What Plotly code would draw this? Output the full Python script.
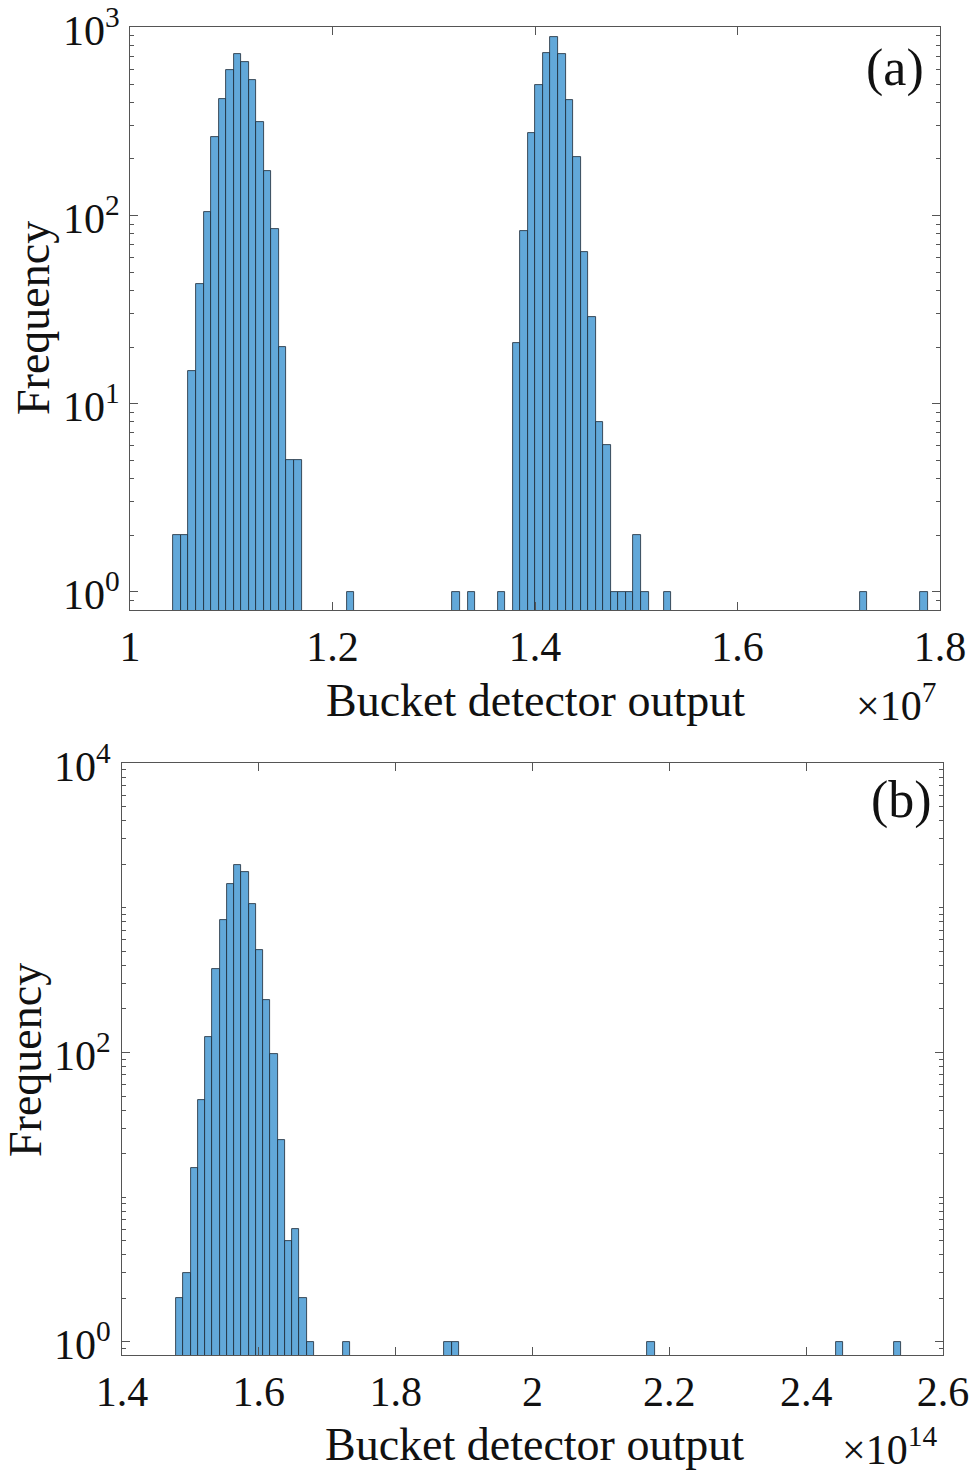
import math
import plotly.graph_objects as go

# ---------------- data ----------------
# Panel (a): histogram bins (index into a regular grid), counts
a_bin_start = 1.0428   # x1e7, left edge of bin 0
a_bin_width = 0.00745
a_bins = list(range(0, 17)) + [23, 37, 39, 43] + list(range(45, 63)) + [65, 91, 99]
a_counts = [2, 2, 15, 43, 105, 261, 418, 593, 718, 658, 523, 313, 173, 85, 20, 5, 5,
            1, 1, 1, 1,
            21, 83, 274, 497, 731, 890, 718, 409, 205, 64, 29, 8, 6, 1, 1, 1, 2, 1,
            1, 1, 1]

# Panel (b)
b_bin_start = 1.479    # x1e14
b_bin_width = 0.0106
b_bins = list(range(0, 19)) + [23, 37, 38, 65, 91, 99]
b_counts = [2, 3, 16, 47, 127, 380, 826, 1455, 1967, 1775, 1069, 509, 229, 97, 25, 5, 6, 2, 1,
            1, 1, 1, 1, 1, 1]

a_xticks = [1.0, 1.2, 1.4, 1.6, 1.8]
a_xticktext = ["1", "1.2", "1.4", "1.6", "1.8"]
b_xticks = [1.4, 1.6, 1.8, 2.0, 2.2, 2.4, 2.6]
b_xticktext = ["1.4", "1.6", "1.8", "2", "2.2", "2.4", "2.6"]
a_yticks = [1, 10, 100, 1000]
a_yticktext = ["10<sup>0</sup>", "10<sup>1</sup>", "10<sup>2</sup>", "10<sup>3</sup>"]
b_yticks = [1, 100, 10000]
b_yticktext = ["10<sup>0</sup>", "10<sup>2</sup>", "10<sup>4</sup>"]

# ---------------- styling ----------------
W, H = 972, 1473
FONT = "Liberation Serif"
BAR_COLOR = "#62a8d9"
EDGE_COLOR = "#1c2733"
AX_COLOR = "#555555"
TXT = "#111111"


def px_x(p):
    return p / W


def px_y(p):
    return (H - p) / H


def centers(start, width, bins):
    return [start + (i + 0.5) * width for i in bins]


fig = go.Figure()
fig.add_trace(go.Bar(x=centers(a_bin_start, a_bin_width, a_bins), y=a_counts,
                     width=[a_bin_width] * len(a_bins),
                     marker=dict(color=BAR_COLOR, line=dict(color=EDGE_COLOR, width=0.8)),
                     xaxis="x", yaxis="y", showlegend=False))
fig.add_trace(go.Bar(x=centers(b_bin_start, b_bin_width, b_bins), y=b_counts,
                     width=[b_bin_width] * len(b_bins),
                     marker=dict(color=BAR_COLOR, line=dict(color=EDGE_COLOR, width=0.8)),
                     xaxis="x2", yaxis="y2", showlegend=False))


def minor_vals(decades):
    vals = [0.9]
    for d in decades:
        for m in range(2, 10):
            vals.append(m * 10 ** d)
    return vals


tickfont = dict(family=FONT, size=42, color=TXT)
common_axis = dict(showline=True, linecolor=AX_COLOR, linewidth=1, mirror="ticks",
                   ticks="inside", ticklen=8, tickwidth=1, tickcolor=AX_COLOR,
                   showgrid=False, zeroline=False, tickfont=tickfont, automargin=False)

# Panel (a) pixel box: x 130..940, y 27..610
# Panel (b) pixel box: x 122..943, y 763..1355
fig.update_layout(
    width=W, height=H, margin=dict(l=0, r=0, t=0, b=0),
    paper_bgcolor="white", plot_bgcolor="white", bargap=0,
    xaxis=dict(domain=[px_x(130), px_x(940)], range=[1.0, 1.8], anchor="y",
               tickmode="array", tickvals=a_xticks, ticktext=a_xticktext,
               ticklabelstandoff=0, **common_axis),
    yaxis=dict(domain=[px_y(610), px_y(27)], type="log", range=[-0.097, 3.002], anchor="x",
               tickmode="array", tickvals=a_yticks, ticktext=a_yticktext,
               showticklabels=False,
               minor=dict(tickmode="array", tickvals=minor_vals([0, 1, 2]),
                          ticks="inside", ticklen=4, tickcolor=AX_COLOR, tickwidth=1),
               **common_axis),
    xaxis2=dict(domain=[px_x(122), px_x(943)], range=[1.4, 2.6], anchor="y2",
                tickmode="array", tickvals=b_xticks, ticktext=b_xticktext,
                ticklabelstandoff=0, **common_axis),
    yaxis2=dict(domain=[px_y(1355), px_y(763)], type="log", range=[-0.092, 4.002], anchor="x2",
                tickmode="array", tickvals=b_yticks, ticktext=b_yticktext,
                showticklabels=False,
                minor=dict(tickmode="array",
                           tickvals=minor_vals([0, 1, 2, 3]) + [10, 1000],
                           ticks="inside", ticklen=4, tickcolor=AX_COLOR, tickwidth=1),
                **common_axis),
)

# y tick labels (whole label incl. superscript centred on the tick, MATLAB-style)
for vals, texts, yref, xr in [(a_yticks, a_yticktext, "y", 121), (b_yticks, b_yticktext, "y2", 112)]:
    for v, t in zip(vals, texts):
        fig.add_annotation(text=t, xref="paper", yref=yref, x=px_x(xr), y=math.log10(v),
                           xanchor="right", yanchor="middle", showarrow=False,
                           font=tickfont, borderpad=0)

ann_font = dict(family=FONT, size=46, color=TXT)
annotations = [
    dict(text="Bucket detector output", x=px_x(535), y=px_y(700)),
    dict(text="Bucket detector output", x=px_x(534), y=px_y(1444)),
    dict(text="Frequency", x=px_x(33), y=px_y(318), textangle=-90),
    dict(text="Frequency", x=px_x(25), y=px_y(1060), textangle=-90),
]
for a in annotations:
    fig.add_annotation(xref="paper", yref="paper", showarrow=False, font=ann_font,
                       xanchor="center", yanchor="middle", **a)

panel_font = dict(family=FONT, size=52, color=TXT)
fig.add_annotation(text="(a)", xref="paper", yref="paper", x=px_x(895), y=px_y(68),
                   showarrow=False, font=panel_font, xanchor="center", yanchor="middle")
fig.add_annotation(text="(b)", xref="paper", yref="paper", x=px_x(901), y=px_y(800),
                   showarrow=False, font=panel_font, xanchor="center", yanchor="middle")

exp_font = dict(family=FONT, size=42, color=TXT)
fig.add_annotation(text="×10<sup>7</sup>", xref="paper", yref="paper", x=px_x(896), y=px_y(703),
                   showarrow=False, font=exp_font, xanchor="center", yanchor="middle")
fig.add_annotation(text="×10<sup>14</sup>", xref="paper", yref="paper", x=px_x(889), y=px_y(1446),
                   showarrow=False, font=exp_font, xanchor="center", yanchor="middle")

fig.write_html("out.html", config={"displayModeBar": False},
               post_script="document.body.style.margin='0px';")
